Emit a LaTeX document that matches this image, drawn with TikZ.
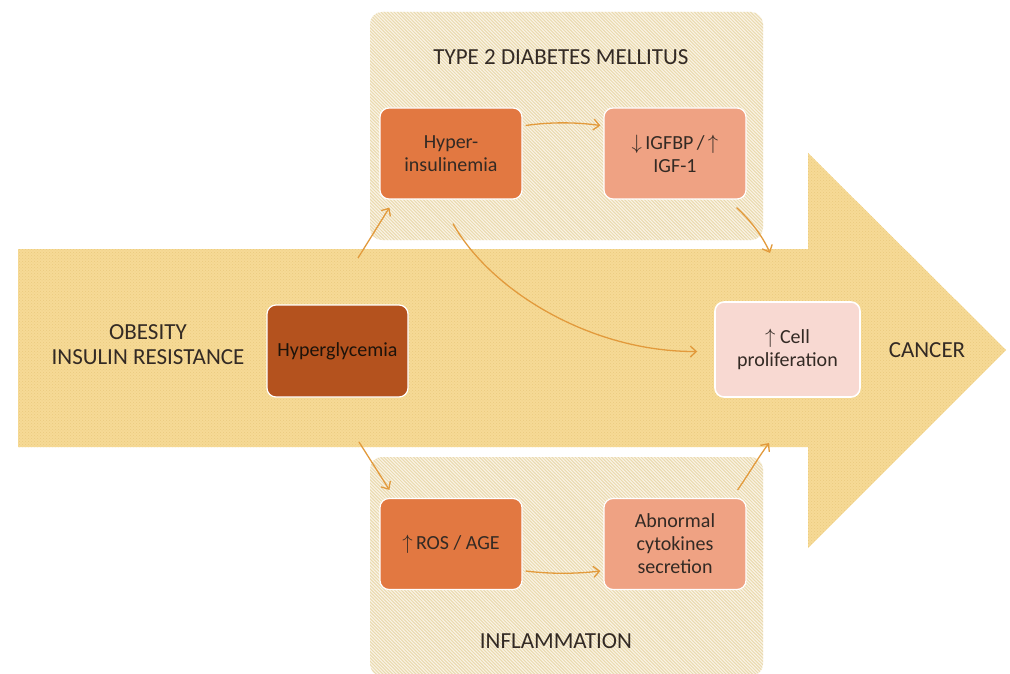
\documentclass[tikz,border=0pt]{standalone}
\usepackage{fontspec}
\setmainfont{Carlito}
\usetikzlibrary{arrows.meta,patterns,calc}
\definecolor{panelbg}{HTML}{FAF4E6}
\definecolor{panelln}{HTML}{EADAAF}
\definecolor{arrowbg}{HTML}{F6DA96}
\definecolor{arrowdot}{HTML}{EBCA7E}
\definecolor{hgly}{HTML}{B4521E}
\definecolor{orng}{HTML}{E27841}
\definecolor{salm}{HTML}{EFA283}
\definecolor{pinkc}{HTML}{F8D9D2}
\definecolor{conncol}{HTML}{E29A3C}
\definecolor{txt}{HTML}{332A24}
\pgfdeclarepatternformonly{hatchnw}{\pgfqpoint{-1pt}{-1pt}}{\pgfqpoint{4.3pt}{4.3pt}}{\pgfqpoint{3.3pt}{3.3pt}}{%
  \pgfsetlinewidth{1pt}%
  \pgfpathmoveto{\pgfqpoint{0pt}{3.3pt}}%
  \pgfpathlineto{\pgfqpoint{3.4pt}{-0.1pt}}%
  \pgfusepath{stroke}}
\begin{document}
\begin{tikzpicture}[x=1pt,y=-1pt,
  box/.style={rounded corners=9pt, draw=white, line width=1.2pt,
    minimum width=142pt, minimum height=91pt, align=center,
    font=\fontsize{20}{23}\selectfont, text=txt, inner sep=2pt},
  head/.style={font=\fontsize{23}{25}\selectfont, text=txt, align=center},
  conn/.style={draw=conncol, line width=1.3pt,
    -{Straight Barb[length=6pt,width=11pt]}},
  panel/.style={rounded corners=12pt, fill=panelbg,
    postaction={pattern=hatchnw, pattern color=panelln}},
]
\useasboundingbox (0,0) rectangle (1010,674);
\fill[white] (0,0) rectangle (1010,674);
% panels
\path[panel] (370,12) rectangle (763,240);
\path[panel] (370,457) rectangle (763,676);
% big arrow
\path[fill=arrowbg, postaction={pattern=crosshatch dots, pattern color=arrowdot}]
  (18,249) -- (808,249) -- (808,153) -- (1006,350) -- (808,548) -- (808,447) -- (18,447) -- cycle;
% headings
\node[head] (t2d) at (561,57) {TYPE 2 DIABETES MELLITUS};
\node[head] (inf) at (556,641) {INFLAMMATION};
\node[head] (ob) at (148,345) {OBESITY\\INSULIN RESISTANCE};
\node[head] (can) at (927,350) {CANCER};
% boxes
\node[box, fill=orng] (hyp) at (451,153.5) {Hyper-\\insulinemia};
\node[box, fill=salm] (igf) at (675,153.5) {$\downarrow$\,IGFBP\,/\,$\uparrow$\\IGF-1};
\node[box, fill=hgly, minimum width=141pt, minimum height=92pt, text=black!85!brown] (hgl) at (337.5,351) {Hyperglycemia};
\node[box, fill=pinkc, minimum width=145pt, minimum height=95pt, line width=1.6pt] (cell) at (787.5,349.5) {$\uparrow$ Cell\\proliferation};
\node[box, fill=orng] (ros) at (451,544) {$\uparrow$\,ROS / AGE};
\node[box, fill=salm] (abn) at (675,544) {Abnormal\\cytokines\\secretion};
% connectors
\coordinate (s1) at (358,258);
\coordinate (s5) at (359,442);
\coordinate (e3) at (770,253);
\coordinate (e7) at (769,443);
\draw[conn] (s1) -- ($(hyp.south west)+(10,8)$);
\draw[conn] ($(hyp.east)+(3,-28)$) .. controls (550,122) and (575,122) .. ($(igf.west)+(-3,-28)$);
\draw[conn] ($(igf.south east)+(-10,8)$) .. controls (750,220) and (762,235) .. (e3);
\draw[conn] ($(hyp.south)+(2,24)$) .. controls (490,290) and (590,352) .. ($(cell.west)+(-17,2)$);
\draw[conn] (s5) -- ($(ros.north west)+(10,-8)$);
\draw[conn] ($(ros.east)+(3,27)$) .. controls (550,574) and (575,574) .. ($(abn.west)+(-3,27)$);
\draw[conn] ($(abn.north east)+(-9,-8)$) .. controls (748,475) and (758,458) .. (e7);
\end{tikzpicture}
\end{document}
